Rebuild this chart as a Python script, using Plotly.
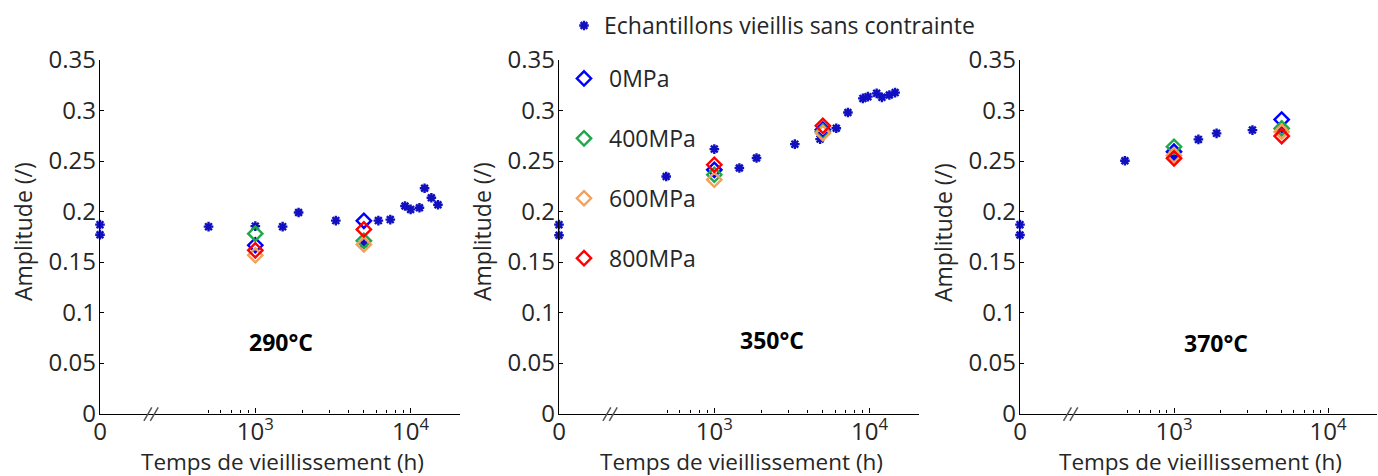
import plotly.graph_objects as go

# ---------------- data ----------------
panel_labels = ["290°C", "350°C", "370°C"]
stress_names = ["0MPa", "400MPa", "600MPa", "800MPa"]
stress_colors = ["#0000ff", "#1fa84a", "#f5a05a", "#ff0000"]

# unstressed aged samples (time in h, 0 = initial state)
t_290 = [0, 0, 500, 1000, 1500, 1900, 3300, 5000, 6200, 7400, 9200, 10000, 11400, 12300, 13600, 15000]
a_290 = [0.187, 0.177, 0.185, 0.1855, 0.185, 0.199, 0.191, 0.168, 0.191, 0.192, 0.2054, 0.2021, 0.2037, 0.223, 0.2136, 0.2067]

t_350 = [0, 0, 490, 1000, 1450, 1870, 3300, 4800, 6100, 7250, 9050, 9750, 11100, 12000, 13400, 14600]
a_350 = [0.187, 0.1765, 0.2347, 0.2618, 0.243, 0.2529, 0.2667, 0.2717, 0.2825, 0.298, 0.312, 0.3137, 0.317, 0.313, 0.3154, 0.3177]

t_370 = [0, 0, 480, 1000, 1440, 1890, 3230, 5000]
a_370 = [0.187, 0.1767, 0.2502, 0.253, 0.2714, 0.2774, 0.2806, 0.282]

# stressed samples (time in h)
t_stress = [1000, 5000]
s_290 = {"0MPa": [0.1666, 0.1908], "400MPa": [0.178, 0.171], "600MPa": [0.1567, 0.1674], "800MPa": [0.1616, 0.1823]}
s_350 = {"0MPa": [0.2413, 0.281], "400MPa": [0.2364, 0.279], "600MPa": [0.2315, 0.2776], "800MPa": [0.2463, 0.2848]}
s_370 = {"0MPa": [0.2592, 0.291], "400MPa": [0.2641, 0.2823], "600MPa": [0.2555, 0.279], "800MPa": [0.2526, 0.2747]}

x_tickvals = [100, 1000, 10000]
x_ticktext = ["0", "10<sup>3</sup>", "10<sup>4</sup>"]
x_minor = [500, 600, 700, 800, 900, 2000, 3000, 4000, 5000, 6000, 7000, 8000, 9000]
y_tickvals = [0, 0.05, 0.1, 0.15, 0.2, 0.25, 0.3, 0.35]
y_ticktext = ["0", "0.05", "0.1", "0.15", "0.2", "0.25", "0.3", "0.35"]

# ---------------- layout constants ----------------
W, H = 1378, 476
FONT = "Open Sans"
TXT = "#262626"
ZERO_POS = 100  # where "0 h" is drawn on the broken log axis

def xmap(ts):
    return [t if t > 0 else ZERO_POS for t in ts]

x_domains = [(100 / W, 460 / W), (559 / W, 919 / W), (1020 / W, 1377 / W)]
y_domain = ((H - 413.5) / H, (H - 60) / H)

fig = go.Figure()

panels = [(t_290, a_290, s_290), (t_350, a_350, s_350), (t_370, a_370, s_370)]
for i, (ts, amps, sd) in enumerate(panels):
    xa = "x" if i == 0 else f"x{i+1}"
    ya = "y" if i == 0 else f"y{i+1}"
    fig.add_trace(go.Scatter(
        x=xmap(ts), y=amps, mode="markers", xaxis=xa, yaxis=ya,
        name="Echantillons vieillis sans contrainte",
        legend="legend", legendgroup="unstressed", showlegend=(i == 0),
        cliponaxis=False,
        marker=dict(symbol="asterisk-open", size=8, color="#1010c0",
                    line=dict(color="#1010c0", width=2.4)),
    ))
    for name, col in zip(stress_names, stress_colors):
        fig.add_trace(go.Scatter(
            x=t_stress, y=sd[name], mode="markers", xaxis=xa, yaxis=ya,
            name=name, legend="legend2", legendgroup=name, showlegend=(i == 0),
            cliponaxis=False,
            marker=dict(symbol="diamond-open", size=11, color=col,
                        line=dict(color=col, width=2.4)),
        ))

axis_common = dict(showline=True, linecolor="black", linewidth=1.3, mirror=False,
                   showgrid=False, zeroline=False, ticks="inside", tickcolor="black",
                   automargin=False, tickfont=dict(family=FONT, size=24, color=TXT))

annotations = []
shapes = []
for i in range(3):
    sfx = "" if i == 0 else str(i + 1)
    xr = [2, 4.318]
    fig.layout["xaxis" + sfx] = dict(
        axis_common, type="log", range=xr, domain=list(x_domains[i]),
        anchor="y" + sfx, tickmode="array", tickvals=x_tickvals, ticktext=x_ticktext,
        ticklen=5, tickwidth=1, ticklabelstandoff=-3,
        minor=dict(tickmode="array", tickvals=x_minor, ticks="inside", ticklen=3,
                   tickcolor="black", tickwidth=1, showgrid=False),
    )
    fig.layout["yaxis" + sfx] = dict(
        axis_common, range=[0, 0.35], domain=list(y_domain), anchor="x" + sfx,
        tickmode="array", tickvals=y_tickvals, ticktext=y_ticktext, ticklen=4, tickwidth=1,
        ticklabelstandoff=-2,
    )
    xd = x_domains[i]
    cx = (xd[0] + xd[1]) / 2
    # axis titles
    annotations.append(dict(text="Temps de vieillissement (h)", xref="paper", yref="paper",
                            x=cx + 2 / W, y=(H - 461) / H, showarrow=False,
                            xanchor="center", yanchor="middle", borderpad=0,
                            font=dict(family=FONT, size=22.5, color=TXT)))
    annotations.append(dict(text="Amplitude (/)", xref="paper", yref="paper",
                            x=xd[0] - 77 / W, y=(H - 232) / H, showarrow=False, textangle=-90,
                            xanchor="center", yanchor="middle",
                            font=dict(family=FONT, size=23, color=TXT)))
    # axis-break marks
    for dx in (0.0, 16 / 360):
        shapes.append(dict(type="line", xref=f"x{sfx} domain", yref=f"y{sfx} domain",
                           x0=0.122 + dx * 0.4, y0=-0.021, x1=0.144 + dx * 0.4, y1=0.017,
                           line=dict(color="#555555", width=1.5)))

label_pos = [(281, 342), (772, 340), (1216, 343)]
for lab, (px, py) in zip(panel_labels, label_pos):
    annotations.append(dict(text=f"<b>{lab}</b>", xref="paper", yref="paper",
                            x=px / W, y=(H - py) / H, showarrow=False,
                            xanchor="center", yanchor="middle",
                            font=dict(family=FONT, size=23, color="black")))

fig.update_layout(
    width=W, height=H, margin=dict(l=0, r=0, t=0, b=0),
    paper_bgcolor="white", plot_bgcolor="white",
    font=dict(family=FONT, color=TXT),
    annotations=annotations, shapes=shapes,
    legend=dict(x=564 / W, y=(H - 4) / H, xanchor="left", yanchor="top",
                bgcolor="rgba(0,0,0,0)", borderwidth=0,
                font=dict(family=FONT, size=23, color=TXT)),
    legend2=dict(x=559 / W, y=(H - 57) / H, xanchor="left", yanchor="top",
                 bgcolor="rgba(0,0,0,0)", borderwidth=0, tracegroupgap=27,
                 traceorder="grouped", itemwidth=40,
                 font=dict(family=FONT, size=23, color=TXT)),
)

fig.write_html("out.html", config={"displayModeBar": False},
               post_script="document.body.style.margin='0';document.body.style.padding='0';document.body.style.overflow='hidden';")
